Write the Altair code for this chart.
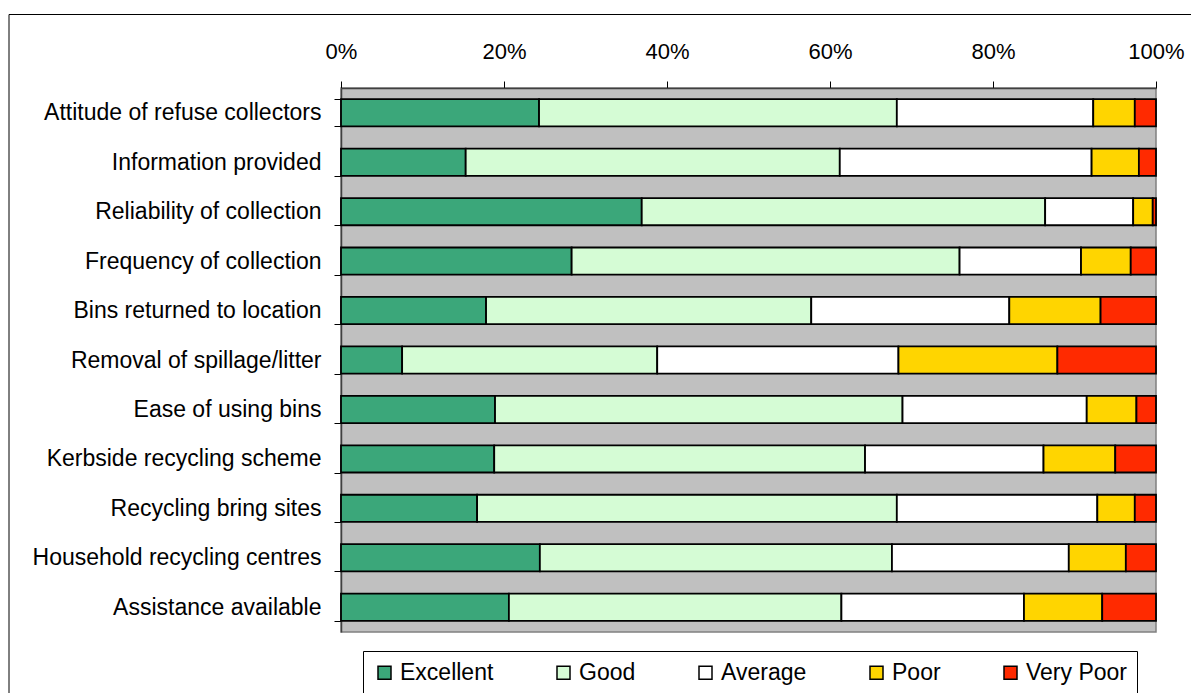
import altair as alt
import pandas as pd

categories = [
    "Attitude of refuse collectors",
    "Information provided\u00a0",
    "Reliability of collection",
    "Frequency of collection",
    "Bins returned to location",
    "Removal of spillage/litter",
    "Ease of using bins\u00a0",
    "Kerbside recycling scheme",
    "Recycling bring sites",
    "Household recycling centres",
    "Assistance available",
]
ratings = ["Excellent", "Good", "Average", "Poor", "Very Poor"]
colors = ["#3BA77A", "#D5FCD5", "#FFFFFF", "#FFD500", "#FF2A00"]

excellent = [24.3, 15.3, 36.9, 28.3, 17.8, 7.5, 18.9, 18.8, 16.7, 24.4, 20.6]
good = [43.9, 45.9, 49.5, 47.6, 39.9, 31.3, 50.0, 45.5, 51.5, 43.2, 40.8]
average = [24.1, 30.9, 10.8, 14.9, 24.3, 29.6, 22.6, 21.9, 24.6, 21.7, 22.4]
poor = [5.1, 5.8, 2.4, 6.1, 11.2, 19.5, 6.1, 8.8, 4.6, 7.0, 9.6]
very_poor = [2.6, 2.1, 0.4, 3.1, 6.8, 12.1, 2.4, 5.0, 2.6, 3.7, 6.6]

series = [excellent, good, average, poor, very_poor]
rows = []
for ri, (rating, vals) in enumerate(zip(ratings, series)):
    for cat, v in zip(categories, vals):
        rows.append({"category": cat, "rating": rating, "value": v, "idx": ri})
df = pd.DataFrame(rows)

FONT = "Liberation Sans"
W, H = 815, 544

bars = alt.Chart(df).mark_bar(stroke="black", strokeWidth=1.8).encode(
    y=alt.Y(
        "category:N",
        sort=categories,
        scale=alt.Scale(paddingInner=0.45, paddingOuter=0.225),
        axis=alt.Axis(
            title=None,
            labelFontSize=23,
            labelFont=FONT,
            labelColor="black",
            labelPadding=13,
            tickBand="extent",
            tickSize=7,
            tickColor="black",
            domainColor="#404040",
            domainWidth=1.5,
            labelLimit=400,
        ),
    ),
    x=alt.X(
        "value:Q",
        stack="normalize",
        scale=alt.Scale(domain=[0, 1], nice=False),
        axis=alt.Axis(
            orient="top",
            title=None,
            values=[0, 0.2, 0.4, 0.6, 0.8, 1.0],
            format=".0%",
            labelFontSize=22,
            labelFont=FONT,
            labelColor="black",
            labelPadding=18,
            labelFlush=False,
            labelOverlap=False,
            tickSize=7,
            tickColor="black",
            domainColor="#404040",
            domainWidth=1.5,
            grid=False,
        ),
    ),
    color=alt.Color(
        "rating:N",
        sort=ratings,
        scale=alt.Scale(domain=ratings, range=colors),
        legend=alt.Legend(
            title=None,
            orient="none",
            direction="horizontal",
            columns=5,
            legendX=22,
            legendY=H + 19,
            symbolType="square",
            symbolSize=169,
            symbolStrokeColor="black",
            symbolStrokeWidth=1.5,
            symbolOpacity=1,
            labelFontSize=23,
            labelFont=FONT,
            labelColor="black",
            labelOffset=4,
            columnPadding=58,
            padding=10,
            strokeColor="black",
            fillColor="white",
        ),
    ),
    order=alt.Order("idx:Q"),
)

frame = alt.Chart(alt.Data(values=[{}])).mark_rect(
    fill=None, fillOpacity=0, stroke="black", strokeWidth=1
).encode(
    x=alt.value(-332),
    x2=alt.value(W + 60),
    y=alt.value(-73.5),
    y2=alt.value(H + 80),
)

chart = alt.layer(frame, bars).properties(
    width=W,
    height=H,
    autosize=alt.AutoSizeParams(type="none"),
    padding={"left": 341, "top": 88, "right": 35, "bottom": 61},
    background="white",
).configure_view(
    fill="#C0C0C0", stroke="#808080", strokeWidth=1.5
)

chart.save("out.html", embed_options={"renderer": "svg", "actions": False})
